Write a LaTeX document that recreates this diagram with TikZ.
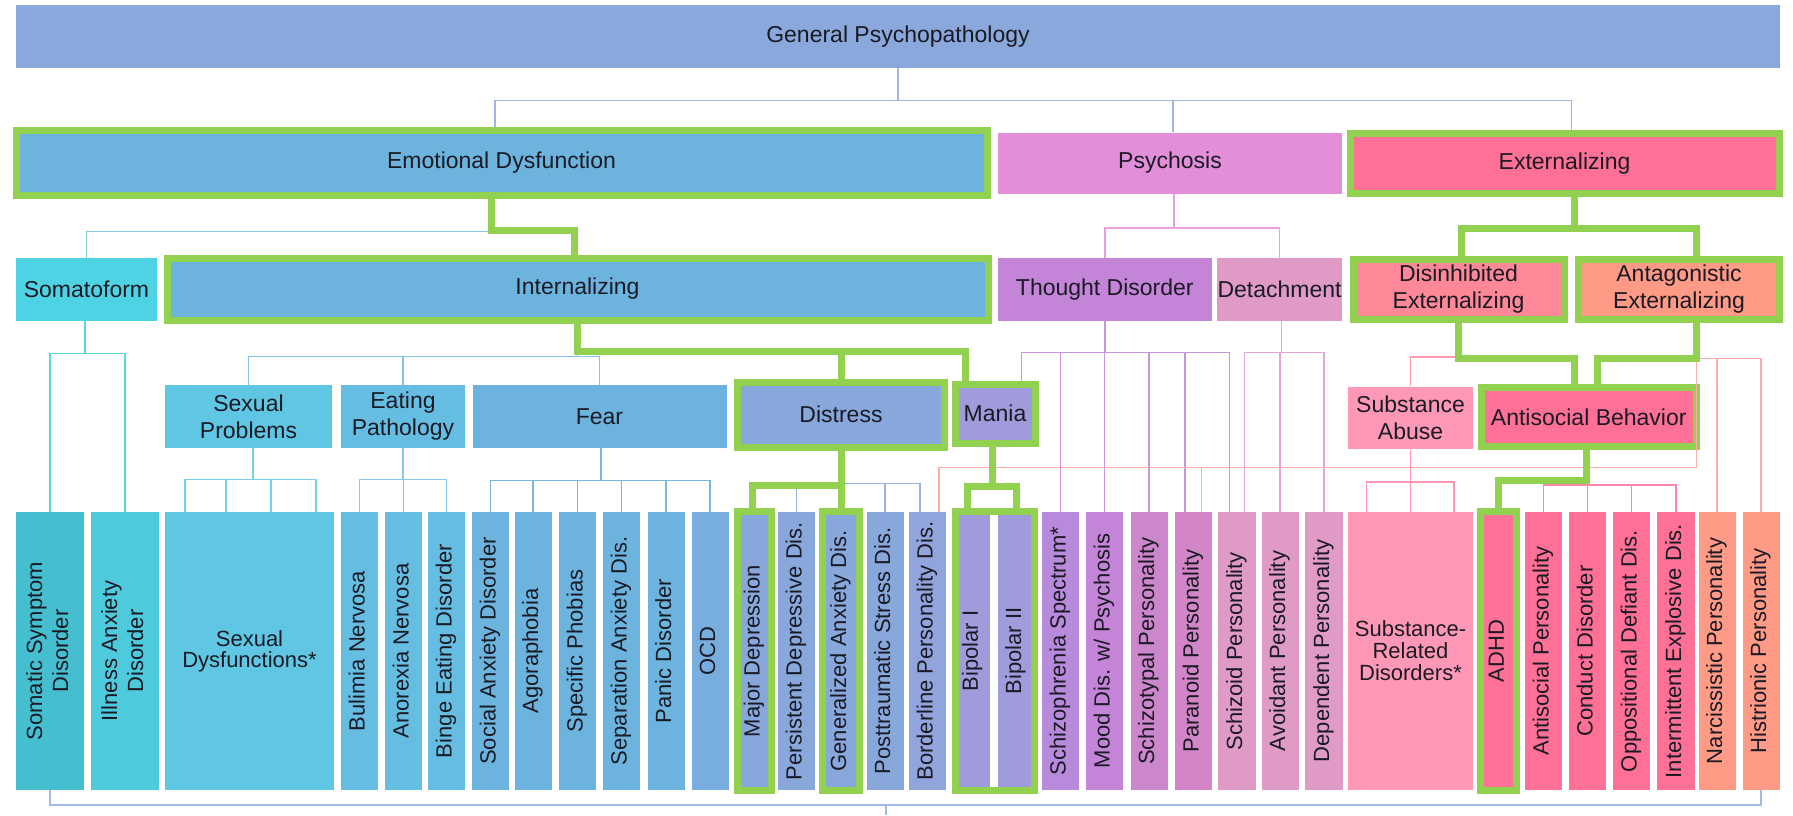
\documentclass[tikz,border=0pt]{standalone}
\usepackage{fontspec}
\setmainfont{Liberation Sans}
\usepackage{graphicx}

\definecolor{txt}{HTML}{1A1A24}
\definecolor{hlgreen}{HTML}{92D050}
\definecolor{cGen}{HTML}{8AA8DC}
\definecolor{cEmo}{HTML}{6CB4DE}
\definecolor{cSom}{HTML}{4ED3E5}
\definecolor{cSsd}{HTML}{45BFCF}
\definecolor{cIll}{HTML}{4DCADC}
\definecolor{cSex}{HTML}{5FC6E3}
\definecolor{cEat}{HTML}{66BDE2}
\definecolor{cFear}{HTML}{6CB4DE}
\definecolor{cOcd}{HTML}{78AEDE}
\definecolor{cDist}{HTML}{88A8DC}
\definecolor{cBord}{HTML}{92A4DC}
\definecolor{cMania}{HTML}{A09CDC}
\definecolor{cPsy}{HTML}{E28ED8}
\definecolor{cTho}{HTML}{C484D8}
\definecolor{cScz}{HTML}{B88ADC}
\definecolor{cSczt}{HTML}{CC86CC}
\definecolor{cPar}{HTML}{D286C8}
\definecolor{cDet}{HTML}{E09AC6}
\definecolor{cExt}{HTML}{FF7096}
\definecolor{cDis}{HTML}{FF8898}
\definecolor{cAnt}{HTML}{FF9A86}
\definecolor{cSub}{HTML}{FF98B6}
% connector colours
\definecolor{lnTop}{HTML}{A0B6E8}
\definecolor{lnEmo}{HTML}{88CAEA}
\definecolor{lnSom}{HTML}{5CD2E8}
\definecolor{lnInt}{HTML}{86C2E8}
\definecolor{lnSex}{HTML}{78CEEE}
\definecolor{lnEat}{HTML}{86C8EA}
\definecolor{lnFear}{HTML}{7AB6E0}
\definecolor{lnDist}{HTML}{98B0E4}
\definecolor{lnPsy}{HTML}{E8A0E4}
\definecolor{lnTho}{HTML}{CA94E0}
\definecolor{lnDet}{HTML}{E6A4D4}
\definecolor{lnDis}{HTML}{FF9CAE}
\definecolor{lnAnt}{HTML}{FFACA2}
\definecolor{lnSub}{HTML}{FF96B2}
\definecolor{lnAsb}{HTML}{FF86A6}
\definecolor{lnBot}{HTML}{A4B8E8}

\newcommand{\uptext}[1]{\rotatebox{90}{\begin{tabular}{@{}c@{}}#1\end{tabular}}}

\tikzset{
box/.style={rectangle, inner sep=0pt, align=center, text=txt,
  font=\fontsize{11.5}{13.5}\selectfont},
leaf/.style={box, minimum width=18.5pt, minimum height=139pt,
  font=\fontsize{11}{13}\selectfont},
hl/.style={draw=hlgreen, line width=3.5pt},
link/.style={draw=#1, line width=0.75pt},
glink/.style={draw=hlgreen, line width=3.5pt},
}

\begin{document}
\begin{tikzpicture}
        [x=0.5pt, y=-0.5pt]
        \useasboundingbox (0,0) rectangle (1793,815);

        % spectra and factors
        \node [box, fill=cGen, minimum width=882pt, minimum height=31.5pt] (gen) at (898,36.5) {General Psychopathology};

        \node [box, hl, fill=cEmo, minimum width=485.5pt, minimum height=32.5pt] (emo) at (501.5,163) {Emotional Dysfunction};
        \node [box, fill=cPsy, minimum width=172pt, minimum height=30.5pt] (psy) at (1170,163) {Psychosis};
        \node [box, hl, fill=cExt, minimum width=214.5pt, minimum height=30pt] (ext) at (1564.5,163.5) {Externalizing};

        \node [box, fill=cSom, minimum width=70.5pt, minimum height=31.5pt] (som) at (86.5,289.5) {Somatoform};
        \node [box, hl, fill=cEmo, minimum width=410.5pt, minimum height=31pt] (int) at (577.5,289) {Internalizing};
        \node [box, fill=cTho, minimum width=106.8pt, minimum height=31.5pt] (tho) at (1104.8,289.5) {Thought Disorder};
        \node [box, fill=cDet, minimum width=62.5pt, minimum height=31.5pt] (det) at (1279.5,289.5) {Detachment};
        \node [box, hl, fill=cDis, minimum width=105.5pt, minimum height=30pt] (dis) at (1458.5,289) {Disinhibited\\Externalizing};
        \node [box, hl, fill=cAnt, minimum width=100.75pt, minimum height=30pt] (ant) at (1679,289.5) {Antagonistic\\Externalizing};

        \node [box, fill=cSex, minimum width=83.5pt, minimum height=31.5pt] (sexp) at (248.5,416.5) {Sexual\\Problems};
        \node [box, fill=cEat, minimum width=62pt, minimum height=31.5pt] (eat) at (403,416.5) {Eating\\Pathology};
        \node [box, fill=cFear, minimum width=127pt, minimum height=31.5pt] (fear) at (599.5,416.5) {Fear};
        \node [box, hl, fill=cDist, minimum width=103.75pt, minimum height=32.5pt] (distr) at (841,414.5) {Distress};
        \node [box, hl, fill=cMania, minimum width=40pt, minimum height=29.5pt] (mania) at (995,413.5) {Mania};
        \node [box, fill=cSub, minimum width=62.5pt, minimum height=31.3pt] (subab) at (1410.5,418) {Substance\\Abuse};
        \node [box, hl, fill=cExt, minimum width=107.75pt, minimum height=29.35pt] (antib) at (1588.75,417.3) {Antisocial Behavior};

        % disorders
        \node [leaf, fill=cSsd, minimum width=34pt] (ssd) at (50,651) {\uptext{Somatic Symptom\\Disorder}};
        \node [leaf, fill=cIll, minimum width=34pt] (iad) at (125,651) {\uptext{Illness Anxiety\\Disorder}};
        \node [leaf, fill=cSex, minimum width=84.5pt, font=\fontsize{11}{10.5}\selectfont] (sexd) at (249.5,651) {Sexual\\Dysfunctions*};
        \node [leaf, fill=cEat] (bul) at (359.5,651) {\uptext{Bulimia Nervosa}};
        \node [leaf, fill=cEat] (ano) at (403.5,651) {\uptext{Anorexia Nervosa}};
        \node [leaf, fill=cEat] (bed) at (446.5,651) {\uptext{Binge Eating Disorder}};
        \node [leaf, fill=cFear] (sad) at (490.5,651) {\uptext{Social Anxiety Disorder}};
        \node [leaf, fill=cFear] (ago) at (533,651) {\uptext{Agoraphobia}};
        \node [leaf, fill=cFear] (spp) at (577.5,651) {\uptext{Specific Phobias}};
        \node [leaf, fill=cFear] (sep) at (621.5,651) {\uptext{Separation Anxiety Dis.}};
        \node [leaf, fill=cFear] (pan) at (666,651) {\uptext{Panic Disorder}};
        \node [leaf, fill=cOcd] (ocd) at (710,651) {\uptext{OCD}};
        \node [leaf, fill=cDist, minimum width=17pt] (mdd) at (754.5,651) {\uptext{Major Depression}};
        \node [leaf, fill=cDist] (pdd) at (796.5,651) {\uptext{Persistent Depressive Dis.}};
        \node [leaf, fill=cDist, minimum width=17.75pt] (gad) at (841,651) {\uptext{Generalized Anxiety Dis.}};
        \node [leaf, fill=cDist] (ptsd) at (885,651) {\uptext{Posttraumatic Stress Dis.}};
        \node [leaf, fill=cBord] (bpd) at (927.5,651) {\uptext{Borderline Personality Dis.}};
        \node [leaf, fill=cMania, minimum width=17.25pt] (bp1) at (972.75,651) {\uptext{Bipolar I}};
        \node [leaf, fill=cMania] (bp2) at (1016,651) {\uptext{Bipolar II}};
        \node [leaf, fill=cScz] (scz) at (1060.5,651) {\uptext{Schizophrenia Spectrum*}};
        \node [leaf, fill=cTho] (mood) at (1104.5,651) {\uptext{Mood Dis. w/ Psychosis}};
        \node [leaf, fill=cSczt] (sczt) at (1149,651) {\uptext{Schizotypal Personality}};
        \node [leaf, fill=cPar] (par) at (1193.5,651) {\uptext{Paranoid Personality}};
        \node [leaf, fill=cDet, minimum width=19pt] (schd) at (1237,651) {\uptext{Schizoid Personality}};
        \node [leaf, fill=cDet] (avo) at (1280,651) {\uptext{Avoidant Personality}};
        \node [leaf, fill=cDet, minimum width=19pt] (dep) at (1324,651) {\uptext{Dependent Personality}};
        \node [leaf, fill=cSub, minimum width=62.5pt, font=\fontsize{11}{11}\selectfont] (srd) at (1410.5,651) {Substance-\\Related\\Disorders*};
        \node [leaf, fill=cExt, minimum width=17.75pt] (adhd) at (1498.75,651) {\uptext{ADHD}};
        \node [leaf, fill=cExt] (asp) at (1543.5,651) {\uptext{Antisocial Personality}};
        \node [leaf, fill=cExt] (cd) at (1587.5,651) {\uptext{Conduct Disorder}};
        \node [leaf, fill=cExt] (odd) at (1631.5,651) {\uptext{Oppositional Defiant Dis.}};
        \node [leaf, fill=cExt, minimum width=19pt] (ied) at (1676,651) {\uptext{Intermittent Explosive Dis.}};
        \node [leaf, fill=cAnt] (nar) at (1717,651) {\uptext{Narcissistic Personality}};
        \node [leaf, fill=cAnt] (his) at (1761,651) {\uptext{Histrionic Personality}};

        % thin connectors
        \draw[link=lnTop] (gen.south) -- ++(0,32) -| ([xshift=-3.25pt]emo.north);
        \draw[link=lnTop] (gen.south) -- ++(0,32) -| ([xshift=1.5pt]psy.north);
        \draw[link=lnTop] (gen.south) -- ++(0,32) -| ([xshift=3.5pt]ext.north);

        \draw[link=lnEmo] ([xshift=-5.25pt]emo.south) -- ++(0,32.5) -| (som.north);

        \draw[link=lnInt] (int.south) -- ++(0,33) -| (sexp.north);
        \draw[link=lnInt] (int.south) -- ++(0,33) -| (eat.north);
        \draw[link=lnInt] (int.south) -- ++(0,33) -| (fear.north);

        \draw[link=lnSom] ([xshift=-0.75pt]som.south) -- ++(0,32) -| (ssd.north);
        \draw[link=lnSom] ([xshift=-0.75pt]som.south) -- ++(0,32) -| (iad.north);

        \draw[link=lnSex] ([xshift=2.25pt]sexp.south) -- ++(0,31) -| ([xshift=-32.25pt]sexd.north);
        \draw[link=lnSex] ([xshift=2.25pt]sexp.south) -- ++(0,31) -| ([xshift=-11.75pt]sexd.north);
        \draw[link=lnSex] ([xshift=2.25pt]sexp.south) -- ++(0,31) -| ([xshift=10.75pt]sexd.north);
        \draw[link=lnSex] ([xshift=2.25pt]sexp.south) -- ++(0,31) -| ([xshift=33.25pt]sexd.north);

        \draw[link=lnEat] (eat.south) -- ++(0,31) -| (bul.north);
        \draw[link=lnEat] (eat.south) -- ++(0,31) -| (ano.north);
        \draw[link=lnEat] (eat.south) -- ++(0,31) -| (bed.north);

        \draw[link=lnFear] ([xshift=0.75pt]fear.south) -- ++(0,32) -| (sad.north);
        \draw[link=lnFear] ([xshift=0.75pt]fear.south) -- ++(0,32) -| (ago.north);
        \draw[link=lnFear] ([xshift=0.75pt]fear.south) -- ++(0,32) -| (spp.north);
        \draw[link=lnFear] ([xshift=0.75pt]fear.south) -- ++(0,32) -| (sep.north);
        \draw[link=lnFear] ([xshift=0.75pt]fear.south) -- ++(0,32) -| (pan.north);
        \draw[link=lnFear] ([xshift=0.75pt]fear.south) -- ++(0,32) -| (ocd.north);

        \draw[link=lnDist] (distr.south) -- ++(0,33) -| (pdd.north);
        \draw[link=lnDist] (distr.south) -- ++(0,33) -| (ptsd.north);
        \draw[link=lnDist] (distr.south) -- ++(0,33) -| ([xshift=-3.75pt]bpd.north);

        \draw[link=lnPsy] ([xshift=2pt]psy.south) -- ++(0,34) -| (tho.north);
        \draw[link=lnPsy] ([xshift=2pt]psy.south) -- ++(0,34) -| (det.north);

        \draw[link=lnTho] (tho.south) -- ++(0,31.3) -| ([xshift=13.35pt]mania.north);
        \draw[link=lnTho] (tho.south) -- ++(0,31.3) -| (scz.north);
        \draw[link=lnTho] (tho.south) -- ++(0,31.3) -| (mood.north);
        \draw[link=lnTho] (tho.south) -- ++(0,31.3) -| (sczt.north);
        \draw[link=lnTho] (tho.south) -- ++(0,31.3) -| ([xshift=-4.25pt]par.north);
        \draw[link=lnTho] (tho.south) -- ++(0,31.3) -| ([xshift=-3.85pt]schd.north);

        \draw[link=lnDet] ([xshift=1pt]det.south) -- ++(0,31) -| ([xshift=3.65pt]schd.north);
        \draw[link=lnDet] ([xshift=1pt]det.south) -- ++(0,31) -| (avo.north);
        \draw[link=lnDet] ([xshift=1pt]det.south) -- ++(0,31) -| (dep.north);

        \draw[link=lnDis] (dis.south) -- ++(0,34.3) -| (subab.north);

        \draw[link=lnAnt] ([xshift=8.85pt]ant.south) -- ++(0,35.5) -| (nar.north);
        \draw[link=lnAnt] ([xshift=8.85pt]ant.south) -- ++(0,35.5) -| (his.north);
        \draw[link=lnAnt] ([xshift=8.85pt]ant.south) -- ++(0,144.5) -| ([xshift=5.75pt]bpd.north);
        \draw[link=lnAnt] ([xshift=8.85pt]ant.south) -- ++(0,144.5) -| ([xshift=4.1pt]par.north);

        \draw[link=lnSub] (subab.south) -- ++(0,32.4) -| ([xshift=-21.9pt]srd.north);
        \draw[link=lnSub] (subab.south) -- ++(0,32.4) -| (srd.north);
        \draw[link=lnSub] (subab.south) -- ++(0,32.4) -| ([xshift=21.75pt]srd.north);

        \draw[link=lnAsb] ([xshift=-1pt]antib.south) -- ++(0,35) -| (asp.north);
        \draw[link=lnAsb] ([xshift=-1pt]antib.south) -- ++(0,35) -| (cd.north);
        \draw[link=lnAsb] ([xshift=-1pt]antib.south) -- ++(0,35) -| (odd.north);
        \draw[link=lnAsb] ([xshift=-1pt]antib.south) -- ++(0,35) -| (ied.north);

        \draw[link=lnBot] (ssd.south) -- ++(0,14.5) -| (his.south);
        \coordinate (cut) at (886,815);
        \draw[link=lnBot] (cut) -- ++(0,-10.5);

        % highlighted path
        \draw[glink] ([xshift=-5.25pt]emo.south) -- ++(0,31.5) -| ([xshift=-1.75pt]int.north);
        \draw[glink] (int.south) -- ++(0,28) -| (distr.north);
        \draw[glink] (int.south) -- ++(0,28) -| ([xshift=-15pt]mania.north);
        \draw[glink] (distr.south) -- ++(0,35) -| ([xshift=-1.25pt]mdd.north);
        \draw[glink] (distr.south) -- ++(0,35) -| (gad.north);
        \draw[glink] ([xshift=-1.25pt]mania.south) -- ++(0,40) -| ([xshift=-2.4pt]bp1.north);
        \draw[glink] ([xshift=-1.25pt]mania.south) -- ++(0,40) -| (bp2.north);
        \draw[glink] ([xshift=4.75pt]ext.south) -- ++(0,31.5) -| ([xshift=1.25pt]dis.north);
        \draw[glink] ([xshift=4.75pt]ext.south) -- ++(0,31.5) -| ([xshift=8.8pt]ant.north);
        \draw[glink] (dis.south) -- ++(0,36) -| ([xshift=-6.9pt]antib.north);
        \draw[glink] ([xshift=8.85pt]ant.south) -- ++(0,35.5) -| ([xshift=4.6pt]antib.north);
        \draw[glink] ([xshift=-1pt]antib.south) -- ++(0,30.35) -| (adhd.north);
        \draw[hl] (mdd.north west) rectangle (mdd.south east);
        \draw[hl] (gad.north west) rectangle (gad.south east);
        \draw[hl] (adhd.north west) rectangle (adhd.south east);
        \draw[hl] (bp1.north west) rectangle (bp2.south east);
\end{tikzpicture}
\end{document}
